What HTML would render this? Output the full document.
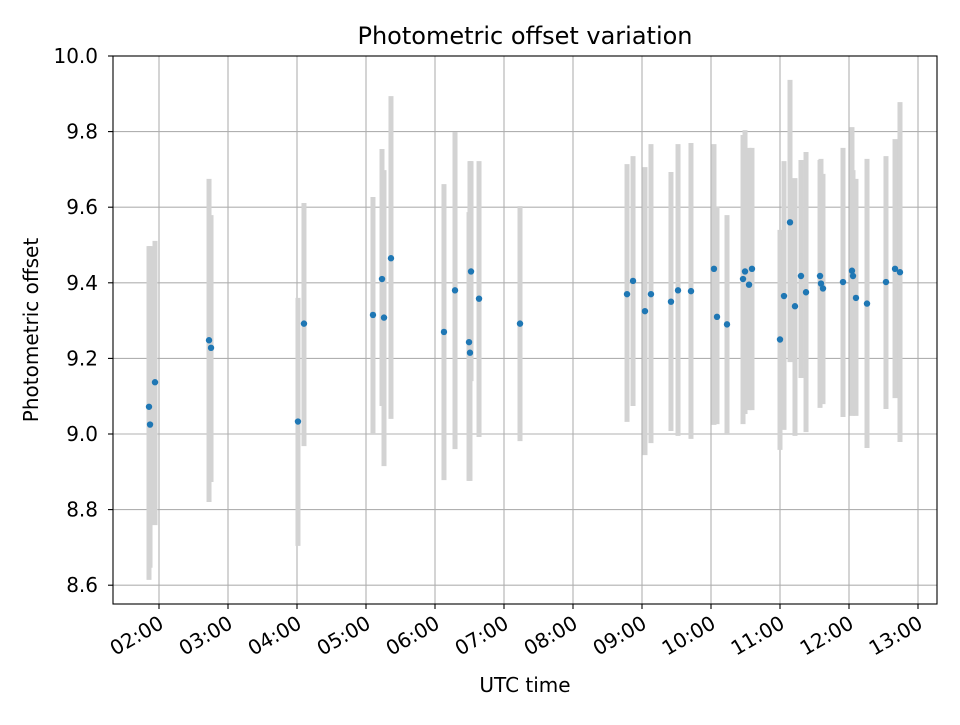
<!DOCTYPE html>
<html><head><meta charset="utf-8"><style>
body{margin:0;background:#fff}
svg text{font-family:"DejaVu Sans","Liberation Sans",sans-serif;fill:#000}
</style></head><body>
<svg id="chart" width="960" height="720" viewBox="0 0 960 720" xmlns="http://www.w3.org/2000/svg">
<rect width="960" height="720" fill="#fff"/>
<text x="525" y="44" font-size="24" text-anchor="middle">Photometric offset variation</text>
<g id="grid"></g>
<g id="bars"></g>
<g id="pts"></g>
<g id="axes"></g>
<text x="525" y="692" font-size="20" text-anchor="middle">UTC time</text>
<text transform="translate(38,330) rotate(-90)" font-size="20" text-anchor="middle">Photometric offset</text>
</svg>
<script>
const times=[1.855,1.870,1.942,2.725,2.754,4.014,4.101,5.101,5.232,5.261,5.362,6.130,6.290,6.493,6.507,6.522,6.638,7.232,8.783,8.870,9.043,9.130,9.420,9.522,9.710,10.043,10.087,10.232,10.464,10.493,10.551,10.594,11.000,11.058,11.145,11.217,11.304,11.377,11.580,11.594,11.623,11.913,12.043,12.058,12.101,12.261,12.536,12.667,12.739];
const values=[9.072,9.025,9.137,9.248,9.228,9.033,9.292,9.315,9.41,9.308,9.465,9.27,9.38,9.243,9.215,9.43,9.358,9.292,9.37,9.405,9.325,9.37,9.35,9.38,9.378,9.437,9.31,9.29,9.41,9.43,9.395,9.437,9.25,9.365,9.56,9.338,9.418,9.375,9.418,9.398,9.385,9.402,9.432,9.418,9.36,9.345,9.402,9.437,9.428];
const upper=[9.497,9.497,9.511,9.675,9.579,9.360,9.611,9.627,9.754,9.698,9.894,9.661,9.799,9.587,9.722,9.722,9.722,9.603,9.714,9.735,9.706,9.767,9.693,9.767,9.770,9.767,9.601,9.579,9.791,9.804,9.757,9.757,9.540,9.722,9.937,9.677,9.725,9.746,9.725,9.728,9.688,9.757,9.812,9.698,9.675,9.728,9.735,9.780,9.878];
const lower=[8.614,8.646,8.759,8.820,8.873,8.704,8.968,9.000,9.074,8.915,9.040,8.878,8.960,8.876,8.876,9.140,8.992,8.981,9.032,9.074,8.944,8.976,9.008,8.995,8.987,9.024,9.026,9.000,9.026,9.053,9.063,9.063,8.958,9.011,9.190,8.995,9.148,9.005,9.069,9.090,9.079,9.045,9.048,9.050,9.048,8.963,9.066,9.095,8.979];
const yTicks=[8.6,8.8,9.0,9.2,9.4,9.6,9.8,10.0];
const xTicks=[2,3,4,5,6,7,8,9,10,11,12,13];
const xTickLabels=["02:00","03:00","04:00","05:00","06:00","07:00","08:00","09:00","10:00","11:00","12:00","13:00"];
const L=113,R=937,T=56,B=604;
const x=h=>159+(h-2)*69;
const y=v=>56+(10-v)*378;
const NS="http://www.w3.org/2000/svg";
function mk(tag,attrs,parent){const e=document.createElementNS(NS,tag);for(const k in attrs)e.setAttribute(k,attrs[k]);parent.appendChild(e);return e;}
const grid=document.getElementById('grid'),bars=document.getElementById('bars'),pts=document.getElementById('pts'),axes=document.getElementById('axes');
yTicks.forEach(v=>{
  const g=mk('line',{x1:L,x2:R,y1:y(v),y2:y(v),stroke:'#b0b0b0','stroke-width':1.1},grid);
  
  
  const t=mk('line',{x1:L-5,x2:L,y1:y(v),y2:y(v),stroke:'#000','stroke-width':1.1},axes);
  
  
  const lb=mk('text',{x:L-15,y:y(v)+7,'font-size':20,'text-anchor':'end'},axes);
  lb.textContent=v.toFixed(1);
  
  
});
xTicks.forEach((h,i)=>{
  const g=mk('line',{x1:x(h),x2:x(h),y1:T,y2:B,stroke:'#b0b0b0','stroke-width':1.1},grid);
  
  
  const t=mk('line',{x1:x(h),x2:x(h),y1:B,y2:B+5,stroke:'#000','stroke-width':1.1},axes);
  
  
  const ax=x(h)+3, ay=B+24;
  const lb=mk('text',{x:ax,y:ay,'font-size':20,'text-anchor':'end',transform:`rotate(-30 ${ax} ${ay-6})`},axes);
  lb.textContent=xTickLabels[i];
  
  
});
times.forEach((h,i)=>{
  const b=mk('line',{x1:x(h),x2:x(h),y1:y(upper[i]),y2:y(lower[i]),stroke:'#d3d3d3','stroke-width':5},bars);
  
  
});
times.forEach((h,i)=>{
  const c=mk('circle',{cx:x(h),cy:y(values[i]),r:3.2,fill:'#1f77b4'},pts);
  
  
});
const fr=mk('rect',{x:L,y:T,width:R-L,height:B-T,fill:'none',stroke:'#000','stroke-width':1.1},axes);


</script>
</body></html>
